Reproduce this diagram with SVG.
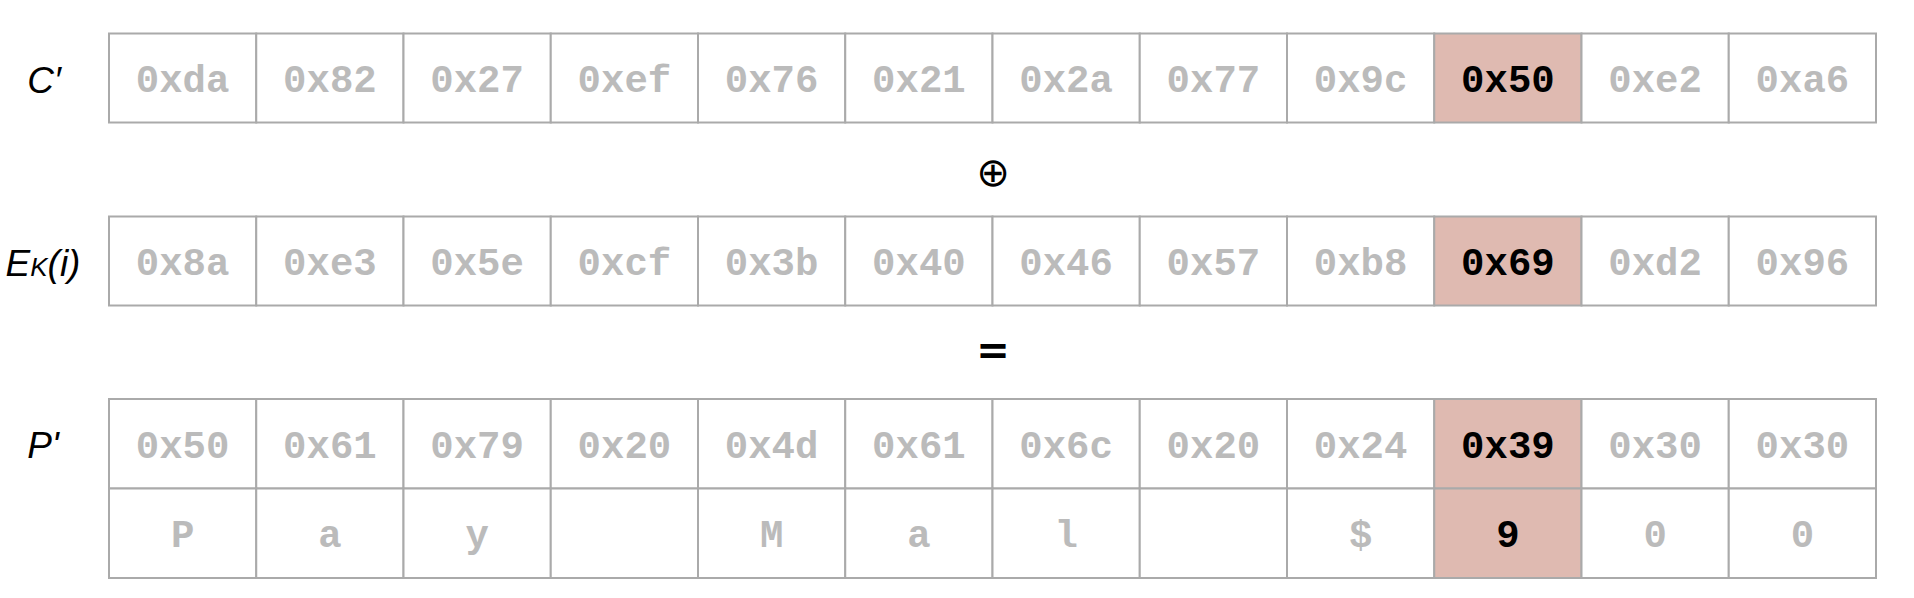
<svg xmlns="http://www.w3.org/2000/svg" width="1914" height="598" viewBox="0 0 1914 598">
<style>
.c{fill:#fff;stroke:#aaa;stroke-width:2}
.h{fill:#dfbab1;stroke:#aaa;stroke-width:2}
.t{font-family:"Liberation Mono","Courier New",monospace;font-weight:bold;font-size:39px;fill:#bbb;text-anchor:middle}
.k{fill:#000}
.lab{font-family:"Liberation Sans",Arial,sans-serif;font-style:italic;font-size:37px;fill:#000;text-anchor:middle}
.op{font-family:"DejaVu Sans","Liberation Sans",sans-serif;font-size:40px;fill:#000;text-anchor:middle}
</style>
<rect width="1914" height="598" fill="#fff"/>
<g id="labels">
<text class="lab" x="44" y="93">C′</text>
<text class="lab" x="43" y="276">E<tspan font-size="26px">K</tspan>(i)</text>
<text class="lab" x="43" y="458">P'</text>
</g>
<g id="ops">
<text class="op" x="993" y="186">⊕</text>
<text class="op" x="993" y="364" font-family="Liberation Sans" font-weight="bold" font-size="36px">=</text>
</g>
<g id="row-c">
<rect class="c" x="109" y="33.5" width="147.25" height="89"/>
<rect class="c" x="256.25" y="33.5" width="147.25" height="89"/>
<rect class="c" x="403.5" y="33.5" width="147.25" height="89"/>
<rect class="c" x="550.75" y="33.5" width="147.25" height="89"/>
<rect class="c" x="698" y="33.5" width="147.25" height="89"/>
<rect class="c" x="845.25" y="33.5" width="147.25" height="89"/>
<rect class="c" x="992.5" y="33.5" width="147.25" height="89"/>
<rect class="c" x="1139.75" y="33.5" width="147.25" height="89"/>
<rect class="c" x="1287" y="33.5" width="147.25" height="89"/>
<rect class="h" x="1434.25" y="33.5" width="147.25" height="89"/>
<rect class="c" x="1581.5" y="33.5" width="147.25" height="89"/>
<rect class="c" x="1728.75" y="33.5" width="147.25" height="89"/>
<text class="t" x="182.6" y="92">0xda</text>
<text class="t" x="329.9" y="92">0x82</text>
<text class="t" x="477.1" y="92">0x27</text>
<text class="t" x="624.4" y="92">0xef</text>
<text class="t" x="771.6" y="92">0x76</text>
<text class="t" x="918.9" y="92">0x21</text>
<text class="t" x="1066.1" y="92">0x2a</text>
<text class="t" x="1213.4" y="92">0x77</text>
<text class="t" x="1360.6" y="92">0x9c</text>
<text class="t k" x="1507.9" y="92">0x50</text>
<text class="t" x="1655.1" y="92">0xe2</text>
<text class="t" x="1802.4" y="92">0xa6</text>
</g>
<g id="row-e">
<rect class="c" x="109" y="216.5" width="147.25" height="89"/>
<rect class="c" x="256.25" y="216.5" width="147.25" height="89"/>
<rect class="c" x="403.5" y="216.5" width="147.25" height="89"/>
<rect class="c" x="550.75" y="216.5" width="147.25" height="89"/>
<rect class="c" x="698" y="216.5" width="147.25" height="89"/>
<rect class="c" x="845.25" y="216.5" width="147.25" height="89"/>
<rect class="c" x="992.5" y="216.5" width="147.25" height="89"/>
<rect class="c" x="1139.75" y="216.5" width="147.25" height="89"/>
<rect class="c" x="1287" y="216.5" width="147.25" height="89"/>
<rect class="h" x="1434.25" y="216.5" width="147.25" height="89"/>
<rect class="c" x="1581.5" y="216.5" width="147.25" height="89"/>
<rect class="c" x="1728.75" y="216.5" width="147.25" height="89"/>
<text class="t" x="182.6" y="275">0x8a</text>
<text class="t" x="329.9" y="275">0xe3</text>
<text class="t" x="477.1" y="275">0x5e</text>
<text class="t" x="624.4" y="275">0xcf</text>
<text class="t" x="771.6" y="275">0x3b</text>
<text class="t" x="918.9" y="275">0x40</text>
<text class="t" x="1066.1" y="275">0x46</text>
<text class="t" x="1213.4" y="275">0x57</text>
<text class="t" x="1360.6" y="275">0xb8</text>
<text class="t k" x="1507.9" y="275">0x69</text>
<text class="t" x="1655.1" y="275">0xd2</text>
<text class="t" x="1802.4" y="275">0x96</text>
</g>
<g id="row-p">
<rect class="c" x="109" y="399" width="147.25" height="89.5"/>
<rect class="c" x="256.25" y="399" width="147.25" height="89.5"/>
<rect class="c" x="403.5" y="399" width="147.25" height="89.5"/>
<rect class="c" x="550.75" y="399" width="147.25" height="89.5"/>
<rect class="c" x="698" y="399" width="147.25" height="89.5"/>
<rect class="c" x="845.25" y="399" width="147.25" height="89.5"/>
<rect class="c" x="992.5" y="399" width="147.25" height="89.5"/>
<rect class="c" x="1139.75" y="399" width="147.25" height="89.5"/>
<rect class="c" x="1287" y="399" width="147.25" height="89.5"/>
<rect class="h" x="1434.25" y="399" width="147.25" height="89.5"/>
<rect class="c" x="1581.5" y="399" width="147.25" height="89.5"/>
<rect class="c" x="1728.75" y="399" width="147.25" height="89.5"/>
<text class="t" x="182.6" y="458">0x50</text>
<text class="t" x="329.9" y="458">0x61</text>
<text class="t" x="477.1" y="458">0x79</text>
<text class="t" x="624.4" y="458">0x20</text>
<text class="t" x="771.6" y="458">0x4d</text>
<text class="t" x="918.9" y="458">0x61</text>
<text class="t" x="1066.1" y="458">0x6c</text>
<text class="t" x="1213.4" y="458">0x20</text>
<text class="t" x="1360.6" y="458">0x24</text>
<text class="t k" x="1507.9" y="458">0x39</text>
<text class="t" x="1655.1" y="458">0x30</text>
<text class="t" x="1802.4" y="458">0x30</text>
</g>
<g id="row-chars">
<rect class="c" x="109" y="488.5" width="147.25" height="89.5"/>
<rect class="c" x="256.25" y="488.5" width="147.25" height="89.5"/>
<rect class="c" x="403.5" y="488.5" width="147.25" height="89.5"/>
<rect class="c" x="550.75" y="488.5" width="147.25" height="89.5"/>
<rect class="c" x="698" y="488.5" width="147.25" height="89.5"/>
<rect class="c" x="845.25" y="488.5" width="147.25" height="89.5"/>
<rect class="c" x="992.5" y="488.5" width="147.25" height="89.5"/>
<rect class="c" x="1139.75" y="488.5" width="147.25" height="89.5"/>
<rect class="c" x="1287" y="488.5" width="147.25" height="89.5"/>
<rect class="h" x="1434.25" y="488.5" width="147.25" height="89.5"/>
<rect class="c" x="1581.5" y="488.5" width="147.25" height="89.5"/>
<rect class="c" x="1728.75" y="488.5" width="147.25" height="89.5"/>
<text class="t" x="182.6" y="547">P</text>
<text class="t" x="329.9" y="547">a</text>
<text class="t" x="477.1" y="547">y</text>
<text class="t" x="771.6" y="547">M</text>
<text class="t" x="918.9" y="547">a</text>
<text class="t" x="1066.1" y="547">l</text>
<text class="t" x="1360.6" y="547">$</text>
<text class="t k" x="1507.9" y="547">9</text>
<text class="t" x="1655.1" y="547">0</text>
<text class="t" x="1802.4" y="547">0</text>
</g>
</svg>
